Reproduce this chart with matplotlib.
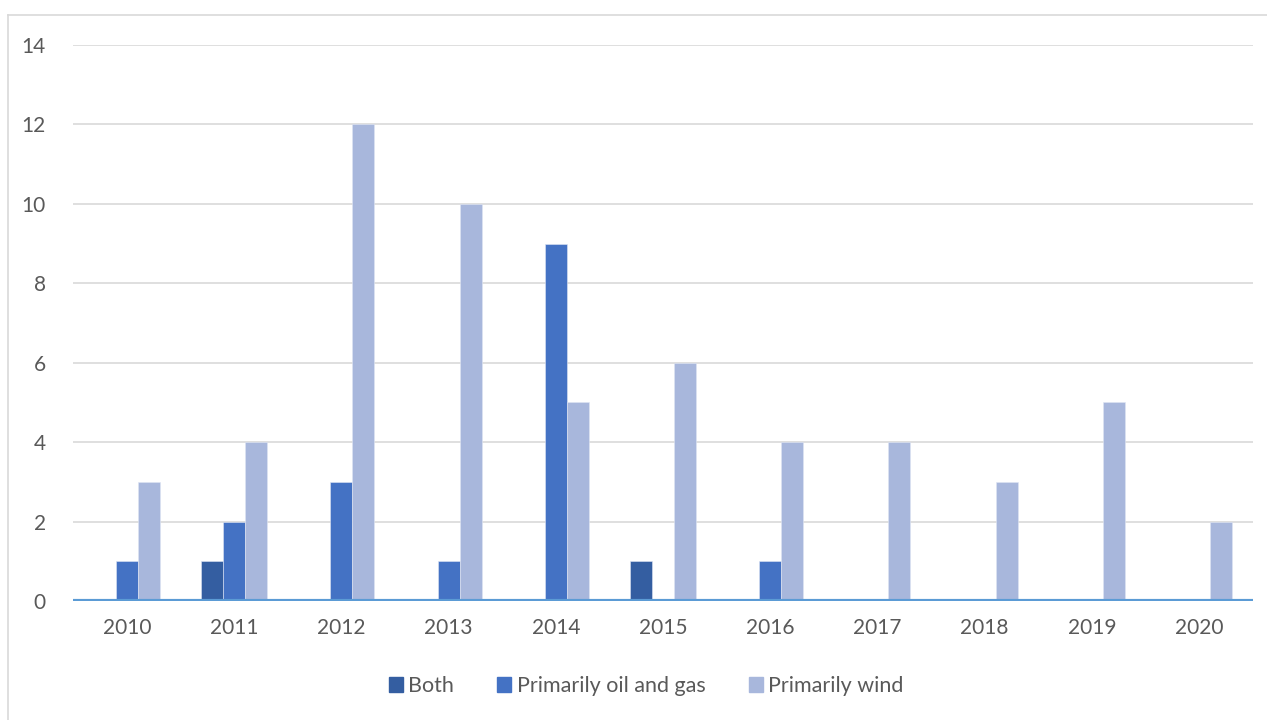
import numpy as np
import matplotlib.pyplot as plt
from matplotlib.lines import Line2D

plt.rcParams['font.family'] = ['Lato', 'DejaVu Sans']

years = ['2010', '2011', '2012', '2013', '2014', '2015',
         '2016', '2017', '2018', '2019', '2020']
both = [0, 1, 0, 0, 0, 1, 0, 0, 0, 0, 0]
oil_gas = [1, 2, 3, 1, 9, 0, 1, 0, 0, 0, 0]
wind = [3, 4, 12, 10, 5, 6, 4, 4, 3, 5, 2]

series = [('Both', both, '#345ea1'),
          ('Primarily oil and gas', oil_gas, '#4472c4'),
          ('Primarily wind', wind, '#a8b7dc')]

fig = plt.figure(figsize=(12.67, 7.2), dpi=100)
ax = fig.add_axes([0.058, 0.1653, 0.9306, 0.7722])

x = np.arange(len(years))
w = 0.205
for i, (name, vals, col) in enumerate(series):
    ax.bar(x + (i - 1) * w, vals, w, color=col, label=name,
           edgecolor='#dfe5f3', linewidth=0.4, zorder=3)

ax.set_xlim(-0.5, len(years) - 0.5)
ax.set_ylim(0, 14)
ax.set_yticks(range(0, 15, 2))
ax.set_xticks(x)
ax.set_xticklabels(years)
ax.yaxis.grid(True, color='#d9d9d9', linewidth=1.2, zorder=0)
ax.axhline(0, color='#5b9bd5', linewidth=3, zorder=4)
for s in ax.spines.values():
    s.set_visible(False)
ax.tick_params(length=0, labelsize=15, labelcolor='#595959')
ax.tick_params(axis='x', pad=12)
ax.tick_params(axis='y', pad=20)

handles = [plt.Rectangle((0, 0), 1, 1, color=c) for _, _, c in series]
fig.legend(handles, [n for n, _, _ in series], loc='center',
           bbox_to_anchor=(0.51, 0.047), ncol=3, frameon=False,
           fontsize=15.5, labelcolor='#595959', handlelength=0.65,
           handleheight=0.65, handletextpad=0.25, columnspacing=2.0)

# chart frame (top and left edges visible)
fig.add_artist(Line2D([8 / 1267, 8 / 1267], [0, 1 - 15 / 720],
                      color='#d9d9d9', linewidth=1.2))
fig.add_artist(Line2D([8 / 1267, 1], [1 - 15 / 720, 1 - 15 / 720],
                      color='#d9d9d9', linewidth=1.2))

fig.savefig('out.png', dpi=100)
